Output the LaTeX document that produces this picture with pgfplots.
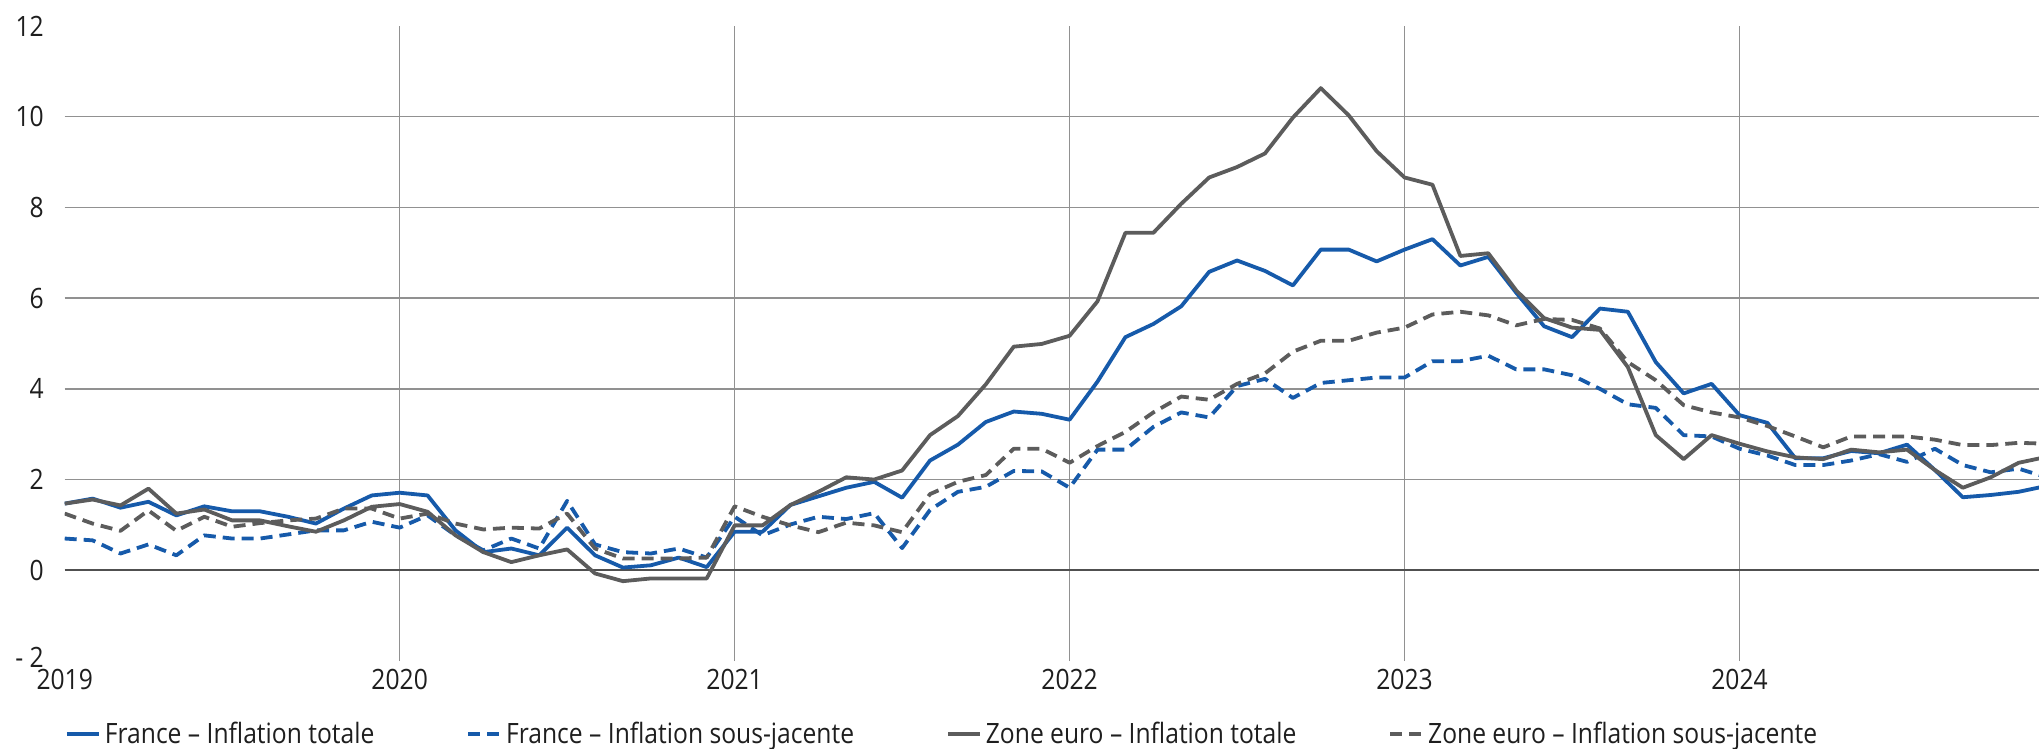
\documentclass[border=0pt]{standalone}
\usepackage{fontspec}
\setmainfont{Open Sans}[FakeStretch=0.88]
\usepackage{pgfplots}
\pgfplotsset{compat=1.18}
\usepackage{pgfplotstable}

\definecolor{frblue}{RGB}{22,90,170}
\definecolor{ezgray}{RGB}{92,92,92}
\definecolor{gridgray}{RGB}{145,145,145}
\definecolor{zerogray}{RGB}{80,80,80}
\definecolor{labelgray}{RGB}{30,30,30}

% Monthly year-on-year inflation (%), month 0 = January 2019
% cols: m, France total, France core, euro area total, euro area core
\pgfplotstableread{
m  frtot frcore eztot ezcore
0  1.47 0.70 1.47 1.25
1  1.58 0.66 1.56 1.03
2  1.38 0.37 1.43 0.87
3  1.51 0.57 1.80 1.32
4  1.21 0.33 1.25 0.87
5  1.41 0.77 1.34 1.18
6  1.30 0.70 1.10 0.96
7  1.30 0.70 1.10 1.04
8  1.18 0.79 0.97 1.10
9  1.03 0.88 0.85 1.14
10 1.36 0.88 1.10 1.36
11 1.65 1.07 1.40 1.36
12 1.71 0.94 1.46 1.14
13 1.65 1.21 1.29 1.25
14 0.88 0.77 0.77 1.03
15 0.40 0.44 0.40 0.90
16 0.48 0.70 0.18 0.94
17 0.33 0.48 0.33 0.92
18 0.94 1.53 0.46 1.25
19 0.33 0.57 -0.07 0.48
20 0.06 0.40 -0.24 0.26
21 0.11 0.37 -0.18 0.26
22 0.28 0.48 -0.18 0.26
23 0.07 0.28 -0.18 0.28
24 0.85 1.18 0.99 1.41
25 0.85 0.77 0.99 1.18
26 1.44 1.01 1.44 0.99
27 1.63 1.18 1.73 0.84
28 1.82 1.13 2.05 1.05
29 1.95 1.26 2.00 0.99
30 1.60 0.49 2.20 0.84
31 2.42 1.33 2.98 1.68
32 2.77 1.73 3.40 1.95
33 3.27 1.84 4.10 2.10
34 3.50 2.19 4.93 2.68
35 3.45 2.18 4.99 2.68
36 3.32 1.82 5.17 2.37
37 4.16 2.66 5.93 2.74
38 5.14 2.66 7.44 3.05
39 5.43 3.16 7.44 3.48
40 5.82 3.48 8.08 3.83
41 6.58 3.37 8.66 3.76
42 6.83 4.06 8.89 4.11
43 6.60 4.22 9.19 4.34
44 6.28 3.80 9.98 4.82
45 7.07 4.13 10.63 5.06
46 7.07 4.19 10.03 5.06
47 6.81 4.25 9.24 5.24
48 7.07 4.25 8.66 5.35
49 7.30 4.61 8.50 5.64
50 6.72 4.61 6.93 5.70
51 6.91 4.73 6.99 5.62
52 6.12 4.43 6.17 5.40
53 5.38 4.43 5.56 5.54
54 5.14 4.30 5.35 5.52
55 5.77 4.00 5.30 5.33
56 5.70 3.66 4.48 4.59
57 4.59 3.58 2.98 4.19
58 3.90 2.98 2.45 3.64
59 4.11 2.95 2.98 3.48
60 3.42 2.68 2.79 3.37
61 3.25 2.53 2.62 3.18
62 2.47 2.32 2.49 2.95
63 2.47 2.32 2.45 2.71
64 2.63 2.42 2.66 2.95
65 2.58 2.56 2.60 2.95
66 2.77 2.39 2.66 2.95
67 2.21 2.68 2.21 2.88
68 1.61 2.32 1.82 2.76
69 1.66 2.16 2.05 2.76
70 1.73 2.24 2.37 2.81
71 1.86 2.05 2.50 2.79
}\inflation

\begin{document}
\begin{tikzpicture}
\begin{axis}[
  name=ax,
  scale only axis,
  width=987.15pt, height=317.5pt,
  xmin=0, xmax=70.73,
  ymin=-2, ymax=12,
  axis line style={draw=none},
  major tick length=0pt,
  /pgf/number format/assume math mode=true,
  xtick={12,24,36,48,60},
  xticklabels={2020,2021,2022,2023,2024},
  extra x ticks={0},
  extra x tick labels={2019},
  extra x tick style={grid=none},
  xmajorgrids,
  ytick={-2,0,12},
  yticklabels={\raisebox{4pt}{- 2},0,12},
  extra y ticks={2,4,6,8,10},
  extra y tick labels={2,4,6,8,10},
  extra y tick style={grid=major},
  grid style={gridgray, line width=0.75pt},
  ticklabel style={font=\fontsize{14}{17}\selectfont, text=labelgray, inner sep=0pt},
  yticklabel style={xshift=-10.3pt},
  xticklabel style={yshift=-4pt},
  legend columns=4,
  legend cell align=left,
  legend style={at={(0,0)}, anchor=west, yshift=-36.5pt, draw=none, fill=none,
    inner sep=0pt, font=\fontsize{14}{17}\selectfont, text=labelgray,
    /tikz/every even column/.append style={column sep=44pt},
    /tikz/every odd column/.append style={column sep=0pt}},
  legend image code/.code={\draw[#1] (0pt,0pt) -- (16pt,0pt);},
  every axis plot/.append style={line width=1.9pt, line join=round},
  dashstyle/.style={dash pattern=on 6pt off 3.5pt},
]
\coordinate (BL) at (rel axis cs:0,0);
\coordinate (TR) at (rel axis cs:1,1);
\draw[zerogray, line width=1pt] ({rel axis cs:0,0} |- {axis cs:0,0}) -- ({rel axis cs:1,0} |- {axis cs:0,0});

\addplot[frblue] table[x=m, y=frtot] {\inflation};
\addlegendentry{France – Inflation totale}
\addplot[frblue, dashstyle] table[x=m, y=frcore] {\inflation};
\addlegendentry{France – Inflation sous-jacente}
\addplot[ezgray] table[x=m, y=eztot] {\inflation};
\addlegendentry{Zone euro – Inflation totale}
\addplot[ezgray, dashstyle] table[x=m, y=ezcore] {\inflation};
\addlegendentry{Zone euro – Inflation sous-jacente}
\end{axis}
\pgfresetboundingbox
\path[use as bounding box] ([xshift=-32.35pt, yshift=-44pt]BL) rectangle ([yshift=13pt]TR);
\end{tikzpicture}
\end{document}
